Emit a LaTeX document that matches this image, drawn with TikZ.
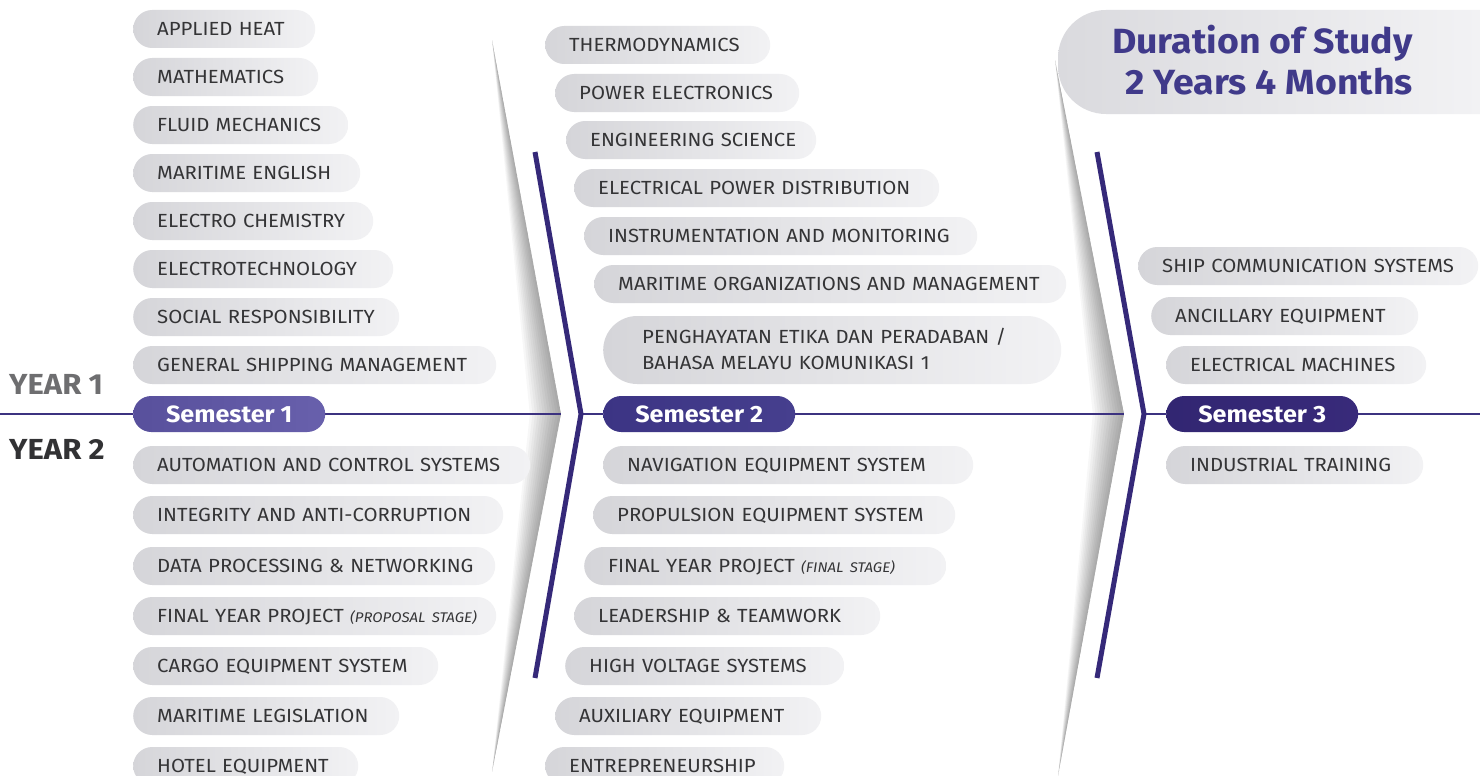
\documentclass[tikz,border=0pt]{standalone}
\usepackage{fontspec}
\setmainfont[FakeStretch=1.07]{Fira Sans}
\definecolor{pillL}{RGB}{213,213,217}
\definecolor{pillM}{RGB}{235,235,238}
\definecolor{pillR}{RGB}{242,242,244}
\definecolor{txt}{RGB}{52,52,54}
\definecolor{navy}{RGB}{53,41,121}
\definecolor{lineC}{RGB}{60,50,128}
\definecolor{semA}{RGB}{88,80,156}
\definecolor{semAr}{RGB}{104,96,172}
\definecolor{semB}{RGB}{60,52,132}
\definecolor{semBr}{RGB}{70,63,142}
\definecolor{semC}{RGB}{50,38,114}
\definecolor{semCr}{RGB}{56,42,122}
\definecolor{titleC}{RGB}{64,58,138}
\definecolor{yearA}{RGB}{110,110,112}
\definecolor{yearB}{RGB}{50,50,52}
\definecolor{boxL}{RGB}{218,218,222}
\definecolor{boxR}{RGB}{242,242,244}
\pgfdeclarelayer{shadowlayer}
\pgfdeclarelayer{linelayer}
\pgfsetlayers{shadowlayer,linelayer,main}
\tikzset{
  pill/.style={rectangle, rounded corners=19pt, minimum height=38pt, anchor=west,
    inner ysep=0pt, left color=pillL, middle color=pillM, right color=pillR,
    text=txt, font=\fontsize{19}{26}\selectfont, align=left,
    text height=13.2pt, text depth=0pt},
  sem/.style={rectangle, rounded corners=18pt, minimum height=36pt, minimum width=192pt,
    anchor=west, inner sep=0pt, text=white, font=\bfseries\fontsize{23.5}{26}\selectfont,
    text height=16.2pt, text depth=0pt},
  hline/.style={draw=lineC, line width=2.5pt},
  chev/.style={draw=navy, line width=5pt, line join=miter},
  yearlbl/.style={anchor=base west, inner sep=0pt, font=\bfseries\fontsize{29}{30}\selectfont},
  titlelbl/.style={anchor=base east, inner sep=0pt, text=titleC, font=\bfseries\fontsize{35}{40}\selectfont}
}
\newcommand\sublbl[1]{{\itshape\fontsize{14}{15}\selectfont #1}}
\newcommand\pill[6][24]{%
  \pgfmathsetmacro\pillw{#4-#3-2*#1}%
  \node[pill, inner xsep=#1pt, text width=\pillw pt] (#2) at (#3,#5) {\mbox{#6}};}
\begin{document}
\begin{tikzpicture}[x=1pt,y=-1pt]
\useasboundingbox (0,0) rectangle (1480,776);
\begin{pgfonlayer}{shadowlayer}
\fill[white] (0,0) rectangle (1480,776);
\foreach \k in {1,...,12}{
  \fill[black,opacity=0.03] (492,40) -- ({561-2.6*\k},414) -- (492,772) -- (561,414) -- cycle;
  \fill[black,opacity=0.03] (1055,60) -- ({1124-2.6*\k},414) -- (1058,776) -- (1124,414) -- cycle;
}
\end{pgfonlayer}

% coordinates
\coordinate (lstart) at (0,414);
\coordinate (edge1) at (561,414);
\coordinate (tip1) at (581,414);
\coordinate (c1t) at (535,152);
\coordinate (c1b) at (535,678);
\coordinate (edge2) at (1124,414);
\coordinate (tip2) at (1144,414);
\coordinate (c2t) at (1097,152);
\coordinate (c2b) at (1097,678);
\coordinate (lend) at (1480,414);

% duration box
\shade[left color=boxL, right color=boxR] (1480,10) -- (1106,10)
  arc[start angle=270, end angle=180, radius=48] -- (1058,66)
  arc[start angle=180, end angle=90, radius=48] -- (1480,114) -- cycle;
\node[titlelbl] (dur1) at (1413,53) {Duration of Study};
\node[titlelbl] (dur2) at (1413,95) {2 Years 4 Months};

% year labels
\node[yearlbl, text=yearA] (year1) at (9,394) {YEAR 1};
\node[yearlbl, text=yearB] (year2) at (9,459) {YEAR 2};

% semesters
\node[sem, left color=semA, right color=semAr] (sem1) at (133,414) {Semester 1};
\node[sem, left color=semB, right color=semBr] (sem2) at (603,414) {Semester 2};
\node[sem, left color=semC, right color=semCr] (sem3) at (1166,414) {Semester 3};

\begin{pgfonlayer}{linelayer}
\draw[hline] (lstart) -- (sem1.west);
\draw[hline] (sem1.east) -- (edge1);
\draw[hline] (tip1) -- (sem2.west);
\draw[hline] (sem2.east) -- (edge2);
\draw[hline] (tip2) -- (sem3.west);
\draw[hline] (sem3.east) -- (lend);
\draw[chev] (c1t) -- (tip1) -- (c1b);
\draw[chev] (c2t) -- (tip2) -- (c2b);
\end{pgfonlayer}

% column 1
\pill{applied}{133}{315}{29}{APPLIED HEAT}
\pill{math}{133}{318}{77}{MATHEMATICS}
\pill{fluid}{133}{348}{125}{FLUID MECHANICS}
\pill{meng}{133}{360}{173}{MARITIME ENGLISH}
\pill{echem}{133}{373}{221}{ELECTRO CHEMISTRY}
\pill{etech}{133}{393}{269}{ELECTROTECHNOLOGY}
\pill{social}{133}{399}{317}{SOCIAL RESPONSIBILITY}
\pill{gsm}{133}{496}{365}{GENERAL SHIPPING MANAGEMENT}
\pill{auto}{133}{530}{465}{AUTOMATION AND CONTROL SYSTEMS}
\pill{integ}{133}{503}{515}{INTEGRITY AND ANTI-CORRUPTION}
\pill{data}{133}{495}{566}{DATA PROCESSING \& NETWORKING}
\pill{fypa}{133}{496}{616}{FINAL YEAR PROJECT \sublbl{(PROPOSAL STAGE)}}
\pill{cargo}{133}{438}{666}{CARGO EQUIPMENT SYSTEM}
\pill{legis}{133}{399}{716}{MARITIME LEGISLATION}
\pill{hotel}{133}{358}{766}{HOTEL EQUIPMENT}

% column 2
\pill{thermo}{545}{770}{45}{THERMODYNAMICS}
\pill{powe}{555}{799}{93}{POWER ELECTRONICS}
\pill{engsci}{566}{816}{140}{ENGINEERING SCIENCE}
\pill{epd}{574}{939}{188}{ELECTRICAL POWER DISTRIBUTION}
\pill{instr}{584}{977}{236}{INSTRUMENTATION AND MONITORING}
\pill{morg}{594}{1066}{284}{MARITIME ORGANIZATIONS AND MANAGEMENT}
\node[pill, inner xsep=39pt, text width=380pt, rounded corners=34pt, minimum height=68pt,
  text height=13.2pt, text depth=26pt] (pen) at (603,350)
  {\mbox{PENGHAYATAN ETIKA DAN PERADABAN /}\\\mbox{BAHASA MELAYU KOMUNIKASI 1}};
\pill{nav}{603}{973}{465}{NAVIGATION EQUIPMENT SYSTEM}
\pill{prop}{593}{955}{515}{PROPULSION EQUIPMENT SYSTEM}
\pill{fypb}{584}{946}{566}{FINAL YEAR PROJECT \sublbl{(FINAL STAGE)}}
\pill{lead}{574}{880}{616}{LEADERSHIP \& TEAMWORK}
\pill{hv}{565}{844}{666}{HIGH VOLTAGE SYSTEMS}
\pill{aux}{555}{821}{716}{AUXILIARY EQUIPMENT}
\pill{entre}{545}{784}{766}{ENTREPRENEURSHIP}

% column 3
\pill{ship}{1138}{1478}{266}{SHIP COMMUNICATION SYSTEMS}
\pill{anc}{1151}{1418}{316}{ANCILLARY EQUIPMENT}
\pill{emach}{1166}{1426}{365}{ELECTRICAL MACHINES}
\pill{indus}{1166}{1423}{465}{INDUSTRIAL TRAINING}
\end{tikzpicture}
\end{document}
